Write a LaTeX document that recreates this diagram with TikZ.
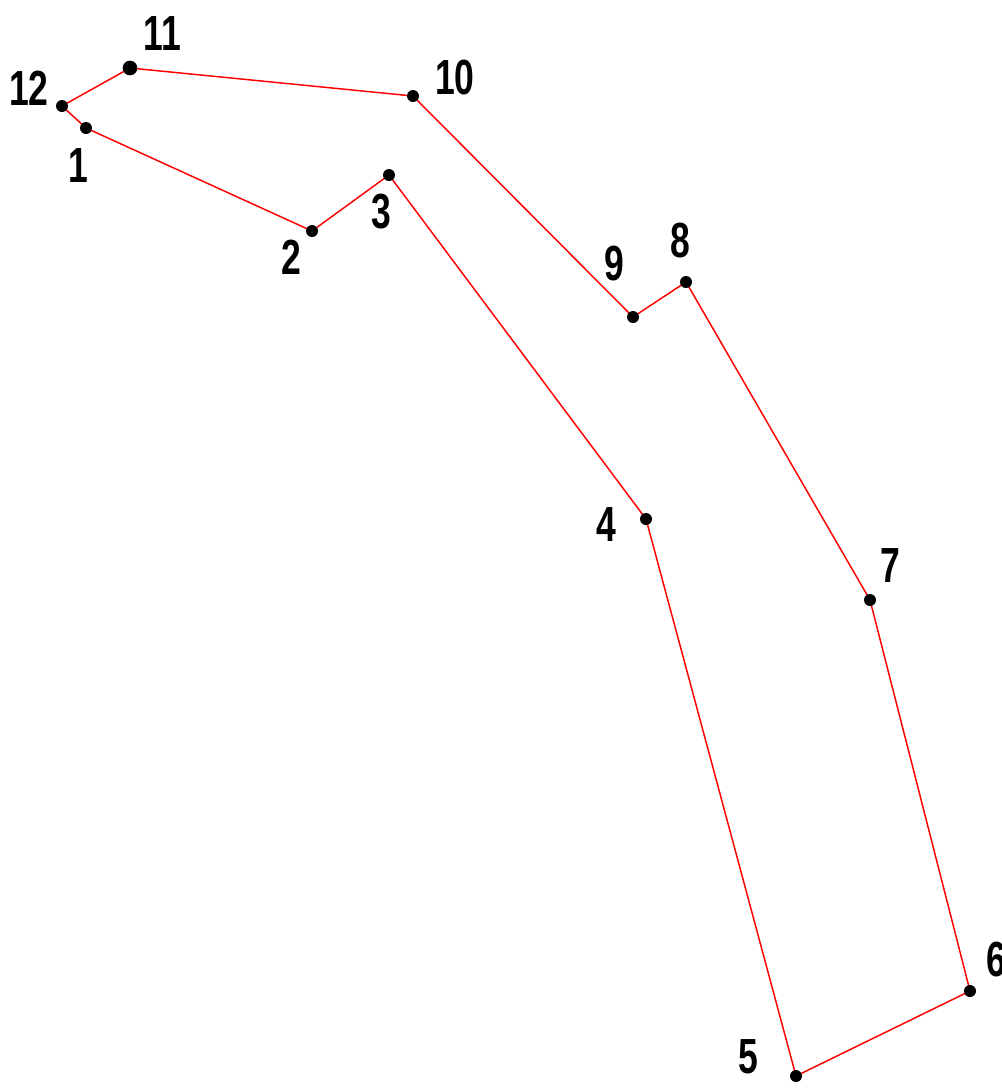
\documentclass[tikz,border=0pt]{standalone}
\usepackage{fontspec}
\setmainfont[FakeStretch=0.72]{Liberation Sans}
\begin{document}
\begin{tikzpicture}[x=0.75pt,y=0.75pt,yscale=-1,xscale=1,
    dot/.style={circle,fill=black,inner sep=0pt,minimum size=9pt},
    num/.style={font=\fontsize{37}{40}\selectfont\bfseries,inner sep=0pt}]
            \useasboundingbox (0,0) rectangle (1001,1090);
            \coordinate (p1) at (86,128);
            \coordinate (p2) at (312,231);
            \coordinate (p3) at (389,175);
            \coordinate (p4) at (646,519);
            \coordinate (p5) at (796,1076);
            \coordinate (p6) at (970,991);
            \coordinate (p7) at (870,600);
            \coordinate (p8) at (686,282);
            \coordinate (p9) at (633,317);
            \coordinate (p10) at (413,96);
            \coordinate (p11) at (130,68);
            \coordinate (p12) at (62,106);
            \draw[red,line width=1.1pt] (p1) -- (p2) -- (p3) -- (p4) -- (p5) -- (p6) -- (p7) -- (p8) -- (p9) -- (p10) -- (p11) -- (p12) -- cycle;
            \foreach \i in {1,...,12} \node[dot] (d\i) at (p\i) {};
            \node[dot,minimum size=11pt] at (p11) {};
            \draw (78,166) node[num]{1};
            \draw (291,257) node[num]{2};
            \draw (381,212) node[num]{3};
            \draw (606,525) node[num]{4};
            \draw (748,1057) node[num]{5};
            \draw (996,960) node[num]{6};
            \draw (890,566) node[num]{7};
            \draw (680,241) node[num]{8};
            \draw (614,264) node[num]{9};
            \draw (455,78) node[num]{10};
            \draw (162,34) node[num]{11};
            \draw (29,88) node[num]{12};
        \end{tikzpicture}
\end{document}
